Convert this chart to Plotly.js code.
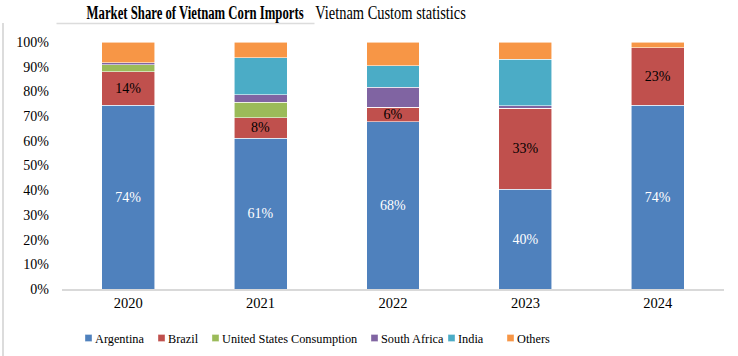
<!DOCTYPE html>
<html>
<head>
<meta charset="utf-8">
<script src="https://cdn.plot.ly/plotly-3.0.1.min.js"></script>
<style>html,body{margin:0;padding:0;background:#fff;}#chart{width:738px;height:356px;}</style>
</head>
<body>
<div id="chart"></div>
<script>
const years = ['2020', '2021', '2022', '2023', '2024'];
const argentina = [74.4, 61.1, 67.7, 40.4, 74.4];
const brazil = [13.6, 8.3, 5.8, 32.8, 23.2];
const usConsumption = [2.8, 6.3, 0, 0, 0];
const southAfrica = [0.9, 3.0, 8.1, 0.9, 0];
const india = [0, 14.9, 8.7, 18.9, 0];
const others = [8.3, 6.4, 9.7, 7.0, 2.4];
const yTicks = [0, 10, 20, 30, 40, 50, 60, 70, 80, 90, 100];

const serif = '"Liberation Serif", "Times New Roman", serif';
const outline = {color: 'rgba(255,255,255,0.7)', width: 0.8};

function bar(name, values, color, legendId, showText, textColor) {
  return {
    type: 'bar', name: name, x: years, y: values, legend: legendId,
    marker: {color: color, line: outline},
    texttemplate: showText ? '%{y:.0f}%' : '',
    textposition: showText ? 'inside' : 'none',
    insidetextanchor: 'middle',
    textangle: 0,
    textfont: {family: serif, size: 14, color: textColor || '#000'},
    hoverinfo: 'skip'
  };
}

const data = [
  bar('Argentina', argentina, '#4f81bd', 'legend', true, '#ffffff'),
  bar('Brazil', brazil, '#c0504d', 'legend2', true, '#000000'),
  bar('United States Consumption', usConsumption, '#9bbb59', 'legend3', false),
  bar('South Africa', southAfrica, '#8064a2', 'legend4', false),
  bar('India', india, '#4bacc6', 'legend5', false),
  bar('Others', others, '#f79646', 'legend6', false)
];

// text start x (px) of each legend entry
function legendAt(textStartPx) {
  return {orientation: 'h', xref: 'container', yref: 'container',
          x: (textStartPx - 40) / 738, xanchor: 'left',
          y: (356 - 338) / 356, yanchor: 'middle',
          itemwidth: 30, bgcolor: 'rgba(0,0,0,0)', borderwidth: 0,
          font: {family: serif, size: 12.3, color: '#000'}};
}

const layout = {
  width: 738, height: 356,
  margin: {l: 62, r: 14, t: 42, b: 67},
  barmode: 'stack',
  bargap: 0.6,
  paper_bgcolor: '#ffffff',
  plot_bgcolor: '#ffffff',
  font: {family: serif, size: 13, color: '#000'},
  showlegend: true,
  legend: legendAt(95),
  legend2: legendAt(168),
  legend3: legendAt(222),
  legend4: legendAt(381),
  legend5: legendAt(458),
  legend6: legendAt(517),
  uniformtext: {mode: 'show', minsize: 14},
  xaxis: {
    type: 'category', showgrid: false, showline: true, linecolor: '#d9d9d9', linewidth: 1.5,
    ticks: '', tickfont: {family: serif, size: 14.5, color: '#000'}, zeroline: false
  },
  yaxis: {
    range: [0, 100], tickvals: yTicks, ticktext: yTicks.map(v => v + '%'),
    showgrid: false, zeroline: false, showline: false, ticks: '',
    ticklabelstandoff: 12,
    tickfont: {family: serif, size: 14, color: '#000'}
  },
  annotations: [
    {text: '<b>Market Share of Vietnam Corn Imports</b>', xref: 'paper', yref: 'paper',
     x: (194 - 61.5) / 662, y: (289 - 12.5) / 247, xanchor: 'center', yanchor: 'middle',
     showarrow: false, font: {family: serif, size: 19, color: '#000'}},
    {text: 'Vietnam Custom statistics', xref: 'paper', yref: 'paper',
     x: (390 - 61.5) / 662, y: (289 - 13.5) / 247, xanchor: 'center', yanchor: 'middle',
     showarrow: false, font: {family: serif, size: 18.5, color: '#000'}}
  ],
  shapes: [
    {type: 'line', xref: 'paper', yref: 'paper', x0: (56 - 61.5) / 662, x1: (314 - 61.5) / 662,
     y0: (289 - 23.5) / 247, y1: (289 - 23.5) / 247, line: {color: '#dcdcdc', width: 1.5}},
    {type: 'line', xref: 'paper', yref: 'paper', x0: (2.5 - 61.5) / 662, x1: (2.5 - 61.5) / 662,
     y0: (289 - 23) / 247, y1: (289 - 360) / 247, line: {color: '#dcdcdc', width: 2}}
  ]
};

// horizontal squeeze factors for the two title texts (reference glyphs are condensed)
const titleSqueeze = [0.67, 0.78];

Plotly.newPlot('chart', data, layout, {displayModeBar: false, staticPlot: true}).then(function (gd) {
  try {
    const texts = gd.querySelectorAll('.annotation-text');
    texts.forEach(function (t, i) {
      const s = titleSqueeze[i];
      if (!s) return;
      const bb = t.getBBox();
      const cx = bb.x + bb.width / 2;
      t.setAttribute('transform', 'translate(' + cx + ',0) scale(' + s + ',1) translate(' + (-cx) + ',0)');
    });
  } catch (e) {}
  try {
    // small legend squares placed just before their labels, as in the reference
    gd.querySelectorAll('.infolayer g.traces').forEach(function (g) {
      const txt = g.querySelector('.legendtext');
      const tx = txt ? parseFloat(txt.getAttribute('x')) || 40 : 40;
      g.querySelectorAll('.legendpoints path').forEach(function (p) {
        p.setAttribute('transform', 'translate(' + (tx - 6.5) + ',0) scale(0.58)');
      });
    });
  } catch (e) {}
});
</script>
</body>
</html>
